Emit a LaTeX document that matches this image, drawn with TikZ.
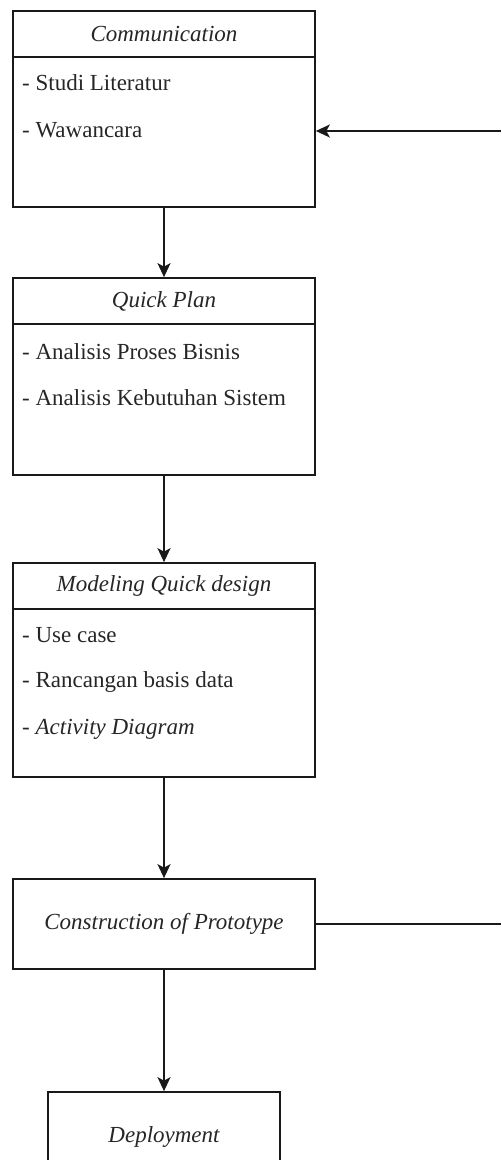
\documentclass[tikz,border=0pt]{standalone}
\usepackage{fontspec}
\setmainfont{Liberation Serif}
\usetikzlibrary{arrows.meta,positioning}

\tikzset{
  every picture/.style={x=1pt,y=-1pt},
  boxline/.style={draw=black!90,line width=1.7pt},
  headbox/.style={boxline,rectangle,minimum width=302pt,minimum height=46pt,inner sep=0pt,
    font=\fontsize{23}{28}\selectfont\itshape,text=black!85},
  bodybox/.style={boxline,rectangle,minimum width=302pt,inner sep=0pt},
  item/.style={anchor=west,inner sep=0pt,font=\fontsize{23}{28}\selectfont,text=black!85},
  flow/.style={draw=black!90,line width=1.8pt,-{Stealth[length=14pt,width=13pt,inset=3.5pt]}},
  link/.style={draw=black!90,line width=1.8pt}
}

\begin{document}
\begin{tikzpicture}
\useasboundingbox (0,0) rectangle (501,1160);
\clip (0,0) rectangle (501,1160);

% Communication
\node[headbox] (commH) at (164,34) {Communication};
\node[bodybox,minimum height=150pt] (commB) at (164,132) {};
\node[item] (c1) at (22,83) {- Studi Literatur};
\node[item] (c2) at (22,130) {- Wawancara};

% Quick Plan
\node[headbox] (qpH) at (164,301) {Quick Plan};
\node[bodybox,minimum height=151pt] (qpB) at (164,399.5) {};
\node[item] (q1) at (22,352) {- Analisis Proses Bisnis};
\node[item] (q2) at (22,398) {- Analisis Kebutuhan Sistem};

% Modeling Quick design
\node[headbox] (mdH) at (164,586) {Modeling Quick design};
\node[bodybox,minimum height=168pt] (mdB) at (164,693) {};
\node[item] (m1) at (22,635) {- Use case};
\node[item] (m2) at (22,682) {- Rancangan basis data};
\node[item] (m3) at (22,729) {- \textit{Activity Diagram}};

% Construction of Prototype
\node[headbox,minimum height=90pt] (cp) at (164,924) {Construction of Prototype};

% Deployment
\node[headbox,minimum width=232pt,minimum height=89pt] (dp) at (164,1136.5) {Deployment};

% flow between stages
\draw[flow] (commB.south) -- (qpH.north);
\draw[flow] (qpB.south) -- (mdH.north);
\draw[flow] (mdB.south) -- (cp.north);
\draw[flow] (cp.south) -- (dp.north);

% feedback path along the right edge
\coordinate (fbIn) at (501,131);
\coordinate (fbOut) at (501,924);
\draw[link] (cp.east) -- (fbOut);
\draw[flow] (fbIn) -- (commB.east |- fbIn);
\end{tikzpicture}
\end{document}
